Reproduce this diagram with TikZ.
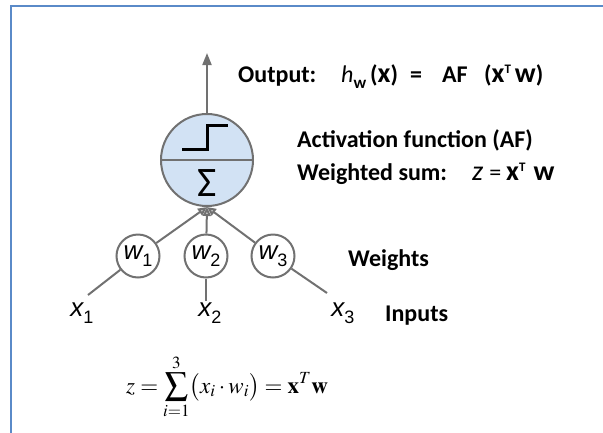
\documentclass[tikz,border=0pt]{standalone}
\usepackage{mathptmx}
\usepackage{fontspec}
\setmainfont{Carlito}
\newfontfamily\arialfont{Liberation Sans}
\usetikzlibrary{positioning,arrows.meta,calc}
\definecolor{cFrame}{HTML}{5A8AC8}
\definecolor{cCell}{HTML}{D2E2F4}
\definecolor{cEdge}{HTML}{717171}
\newcommand{\vlab}[2]{{\arialfont\itshape #1}\raisebox{-7pt}{\fontsize{18}{18}\selectfont\arialfont #2}}
\newcommand{\eqlet}[1]{{\fontsize{28}{28}\selectfont #1}}
\newcommand{\supT}{\raisebox{9pt}{\fontsize{13}{13}\selectfont T}}

\begin{document}
\begin{tikzpicture}[
    x=1pt, y=-1pt,
    font=\fontsize{24}{28}\selectfont\bfseries,
    neuron/.style={circle, draw=cEdge, line width=2pt, fill=cCell, minimum size=92pt, inner sep=0pt},
    weight/.style={circle, draw=cEdge, line width=2pt, fill=white, minimum size=43pt, inner sep=0pt, font=\fontsize{26}{26}\selectfont\mdseries},
    inp/.style={inner sep=1pt, font=\fontsize{26}{26}\selectfont\mdseries},
    lbl/.style={anchor=base west, inner sep=0pt},
    frame/.style={cFrame, line width=2.5pt},
    edge/.style={cEdge, line width=2pt},
    arr/.style={edge, -{Triangle[length=12pt, width=9pt]}},
    warr/.style={edge, -{Triangle[length=9pt, width=8pt, fill=gray!35]}}
]
\useasboundingbox (0,0) rectangle (603,432);
\draw[frame] (11,440) -- (11,6) -- (610,6);

\node[neuron] (sum) at (207,160) {};
\draw[edge] (sum.west) -- (sum.east);
\draw[black, line width=3pt] (182,149) -- (207,149) -- (207,125) -- (228,125);
\node[font=\fontsize{42}{42}\selectfont\mdseries] (sigma) at (207,183) {Σ};

\node[weight] (w1) at (138,256) {\vlab{w}{1}};
\node[weight] (w2) at (206,256) {\vlab{w}{2}};
\node[weight] (w3) at (273,256) {\vlab{w}{3}};

\node[inp, anchor=base] (x1) at (82,316) {\vlab{x}{1}};
\node[inp, anchor=base] (x2) at (210,316) {\vlab{x}{2}};
\node[inp, anchor=base] (x3) at (343,316) {\vlab{x}{3}};
\coordinate (x1top) at (88,295);
\coordinate (x3top) at (327,293);
\coordinate (outtip) at (207,53);

\draw[edge] (x1top) -- (w1);
\draw[edge] (w2) -- (w2 |- x2.north);
\draw[edge] (w3) -- (x3top);
\draw[warr] (w1) -- (sum.south);
\draw[warr] (w2) -- (sum.south);
\draw[warr] (w3) -- (sum.south);
\draw[arr] (sum) -- (outtip);

\node[lbl] (outlbl) at (238,82) {Output:};
\node[lbl] (outeq) at (341,82) {{\mdseries\itshape h}\raisebox{-6pt}{\fontsize{17}{17}\selectfont w}\hspace{4pt}(\eqlet{x})\hspace{12pt}=};
\node[lbl] (outaf) at (442,82) {AF};
\node[lbl] (outarg) at (484,82) {(\eqlet{x}\supT\hspace{4pt}\eqlet{w})};
\node[lbl] (aflbl) at (297,147) {Activation function (AF)};
\node[lbl] (wslbl) at (297,180) {Weighted sum:};
\node[lbl] (wseq) at (472,180) {{\mdseries\itshape\eqlet{z}}\hspace{6pt}{\mdseries =}\hspace{5pt}\eqlet{x}\supT\hspace{8pt}\eqlet{w}};
\node[lbl] (wtlbl) at (348,266) {Weights};
\node[lbl] (inlbl) at (385,321) {Inputs};
\node[lbl, font=\fontsize{23}{27}\selectfont] (sumeq) at (126,393) {$\displaystyle z=\sum_{i=1}^{3}\bigl(x_i\cdot w_i\bigr)=\mathbf{x}^T\mathbf{w}$};
\end{tikzpicture}
\end{document}
